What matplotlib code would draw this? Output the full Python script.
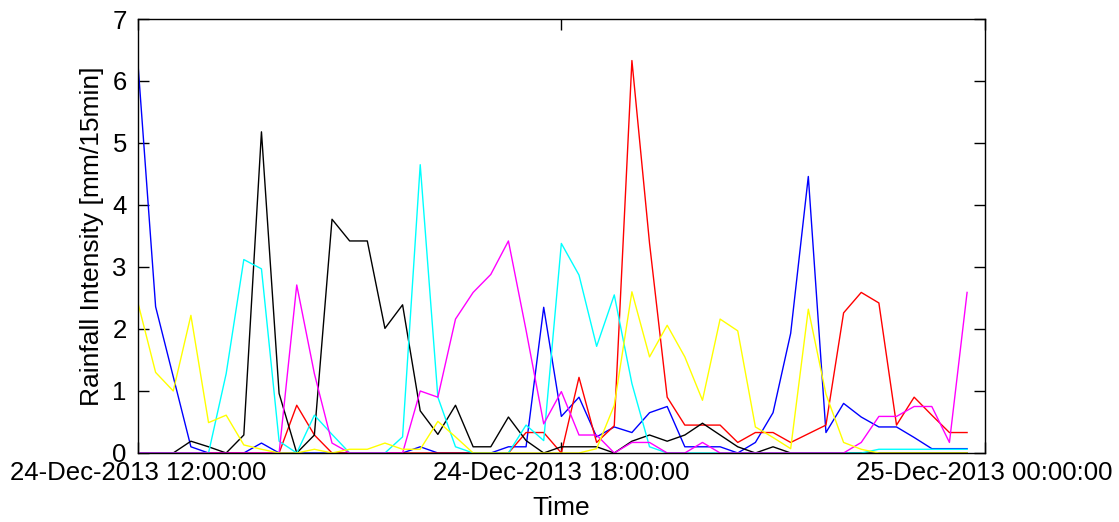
#!/usr/bin/env python3
# -*- coding: utf-8 -*-
"""
Rainfall intensity of six gauges, 24-Dec-2013 12:00 to 25-Dec-2013 00:00, 15 min steps.
"""

import matplotlib
matplotlib.use('Agg')
import matplotlib.pyplot as plt
import matplotlib.dates as mdates
import numpy as np
import pandas as pd

plt.rcParams['font.family'] = ['Liberation Sans', 'DejaVu Sans']

# 48 values each, one every 15 minutes starting 24-Dec-2013 12:00
blue = [6.28, 2.36, 1.23, 0.1, 0, 0, 0, 0.16, 0, 0, 0, 0, 0, 0, 0, 0,
        0.1, 0, 0, 0, 0, 0.1, 0.1, 2.35, 0.59, 0.9, 0.26, 0.42, 0.33, 0.65, 0.75, 0.1,
        0.1, 0.1, 0, 0.17, 0.65, 1.93, 4.46, 0.33, 0.8, 0.58, 0.42, 0.42, 0.25, 0.07, 0.07, 0.07]
red = [0, 0, 0, 0, 0, 0, 0, 0, 0, 0.77, 0.29, 0, 0, 0, 0, 0,
       0, 0, 0, 0, 0, 0, 0.33, 0.33, 0, 1.22, 0.17, 0.44, 6.33, 3.38, 0.9, 0.45,
       0.45, 0.45, 0.17, 0.33, 0.33, 0.17, 0.31, 0.45, 2.26, 2.59, 2.42, 0.45, 0.9, 0.61, 0.33, 0.33]
black = [0, 0, 0, 0.19, 0.1, 0, 0.29, 5.18, 0.96, 0, 0.29, 3.77, 3.42, 3.42, 2.01, 2.39,
         0.68, 0.3, 0.77, 0.1, 0.1, 0.58, 0.2, 0, 0.1, 0.1, 0.1, 0, 0.19, 0.29, 0.19, 0.29,
         0.48, 0.29, 0.1, 0, 0.1, 0, 0, 0, 0, 0, 0, 0, 0, 0, 0, 0]
cyan = [0, 0, 0, 0, 0, 1.28, 3.12, 2.97, 0.19, 0, 0.61, 0.3, 0, 0, 0, 0.26,
        4.65, 0.9, 0.1, 0, 0, 0, 0.45, 0.2, 3.38, 2.87, 1.72, 2.55, 1.12, 0.1, 0, 0,
        0, 0, 0, 0, 0, 0, 0, 0, 0, 0, 0.06, 0.06, 0.06, 0.06, 0.06, 0.06]
magenta = [0, 0, 0, 0, 0, 0, 0, 0, 0, 2.71, 1.28, 0.16, 0, 0, 0, 0,
           1.0, 0.9, 2.16, 2.59, 2.88, 3.42, 1.98, 0.47, 0.99, 0.29, 0.29, 0, 0.17, 0.17, 0, 0,
           0.17, 0, 0, 0, 0, 0, 0, 0, 0, 0.17, 0.59, 0.59, 0.75, 0.75, 0.17, 2.59]
yellow = [2.42, 1.3, 1.0, 2.22, 0.49, 0.61, 0.13, 0.06, 0, 0, 0.06, 0, 0.06, 0.06, 0.16, 0.06,
          0.06, 0.51, 0.26, 0, 0, 0, 0, 0, 0, 0, 0.07, 0.77, 2.6, 1.55, 2.06, 1.55,
          0.85, 2.16, 1.97, 0.42, 0.25, 0.07, 2.32, 0.95, 0.17, 0.06, 0, 0, 0, 0, 0, 0]

series = [blue, red, black, cyan, magenta, yellow]
colors = ['#0000ff', '#ff0000', '#000000', '#00ffff', '#ff00ff', '#ffff00']

times = pd.date_range('2013-12-24 12:00', periods=48, freq='15min')
tick_times = pd.to_datetime(['2013-12-24 12:00', '2013-12-24 18:00', '2013-12-25 00:00'])

fig = plt.figure(figsize=(11.19, 5.22), dpi=100)
ax = fig.add_axes([0.1233, 0.1322, 0.7567, 0.8314])

for values, c in zip(series, colors):
    ax.plot(times, values, color=c, linewidth=1.0)

ax.set_xlim(tick_times[0], tick_times[-1])
ax.set_ylim(0, 7)
ax.set_yticks(np.arange(0, 8, 1))
ax.set_xticks(tick_times)
ax.xaxis.set_major_formatter(mdates.DateFormatter('%d-%b-%Y %H:%M:%S'))

ax.tick_params(direction='in', top=True, right=True, length=8, width=1,
               labelsize=18.5, pad=6)
ax.tick_params(axis='y', pad=8)
for spine in ax.spines.values():
    spine.set_linewidth(1.0)

ax.set_xlabel('Time', fontsize=19, labelpad=8)
ax.set_ylabel('Rainfall Intensity [mm/15min]', fontsize=19, labelpad=6)

fig.savefig('out.png', dpi=100)
